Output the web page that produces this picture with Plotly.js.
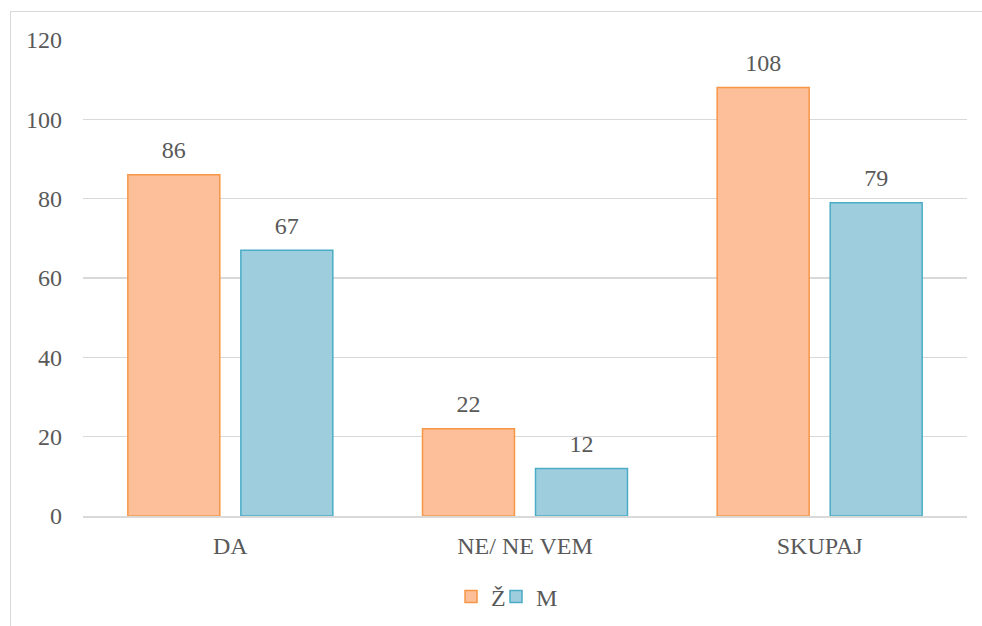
<!DOCTYPE html>
<html>
<head>
<meta charset="utf-8">
<script src="https://cdn.plot.ly/plotly-3.0.1.min.js"></script>
<style>
  html, body { margin: 0; padding: 0; background: #ffffff; }
  #frame { position: absolute; left: 10px; top: 11px; width: 990px; height: 640px; border: 1.5px solid #d9d9d9; box-sizing: border-box; }
  #chart { position: absolute; left: 0; top: 0; width: 982px; height: 626px; }
</style>
</head>
<body>
<div id="frame"></div>
<div id="chart"></div>
<script>
const categories = ["DA", "NE/ NE VEM", "SKUPAJ"];
const seriesNames = ["Ž", "M"];
const valuesZ = [86, 22, 108];
const valuesM = [67, 12, 79];
const yTicks = [0, 20, 40, 60, 80, 100, 120];

const fontFamily = 'Liberation Serif';
const textColor = '#595959';
const fs = 24;

const traces = [
  {
    type: 'bar', name: seriesNames[0], x: categories, y: valuesZ, offsetgroup: 'z', alignmentgroup: 'g',
    marker: { color: '#fcbf99', line: { color: '#f79646', width: 1.5 } },
    hoverinfo: 'x+y', legend: 'legend'
  },
  {
    type: 'bar', name: seriesNames[1], x: categories, y: valuesM, offsetgroup: 'm', alignmentgroup: 'g',
    marker: { color: '#9ecdde', line: { color: '#4bacc6', width: 1.5 } },
    hoverinfo: 'x+y', legend: 'legend2'
  },
  {
    type: 'scatter', mode: 'markers+text', x: categories, y: valuesZ, offsetgroup: 'z', alignmentgroup: 'g',
    text: valuesZ.map(String), textposition: 'top center', cliponaxis: false, showlegend: false,
    marker: { size: 15, opacity: 0 },
    textfont: { family: fontFamily, size: fs, color: textColor }, hoverinfo: 'skip'
  },
  {
    type: 'scatter', mode: 'markers+text', x: categories, y: valuesM, offsetgroup: 'm', alignmentgroup: 'g',
    text: valuesM.map(String), textposition: 'top center', cliponaxis: false, showlegend: false,
    marker: { size: 15, opacity: 0 },
    textfont: { family: fontFamily, size: fs, color: textColor }, hoverinfo: 'skip'
  }
];

const legendFont = { family: fontFamily, size: fs, color: textColor };
const layout = {
  width: 982, height: 626,
  paper_bgcolor: 'rgba(0,0,0,0)', plot_bgcolor: 'rgba(0,0,0,0)',
  margin: { l: 83, r: 15, t: 40, b: 110, autoexpand: false },
  barmode: 'group', bargap: 0.233, bargroupgap: 0.186,
  scattermode: 'group', scattergap: 0.233,
  font: { family: fontFamily, size: fs, color: textColor },
  showlegend: true,
  legend: { orientation: 'h', x: 0.4163, xanchor: 'left', y: -0.17, yanchor: 'middle', font: legendFont, bgcolor: 'rgba(0,0,0,0)' },
  legend2: { orientation: 'h', x: 0.4672, xanchor: 'left', y: -0.17, yanchor: 'middle', font: legendFont, bgcolor: 'rgba(0,0,0,0)' },
  xaxis: {
    type: 'category', showgrid: false, showline: true, linecolor: '#d9d9d9', linewidth: 1.5,
    ticks: '', tickfont: { family: fontFamily, size: fs, color: textColor }, ticklabelstandoff: 8
  },
  yaxis: {
    range: [0, 120], tickvals: yTicks, ticktext: yTicks.map(String),
    showgrid: true, gridcolor: '#d9d9d9', gridwidth: 1.5, zeroline: false, showline: false,
    ticks: '', tickfont: { family: fontFamily, size: fs, color: textColor }, ticklabelstandoff: 20
  }
};

Plotly.newPlot('chart', traces, layout, { displayModeBar: false, staticPlot: true });
</script>
</body>
</html>
